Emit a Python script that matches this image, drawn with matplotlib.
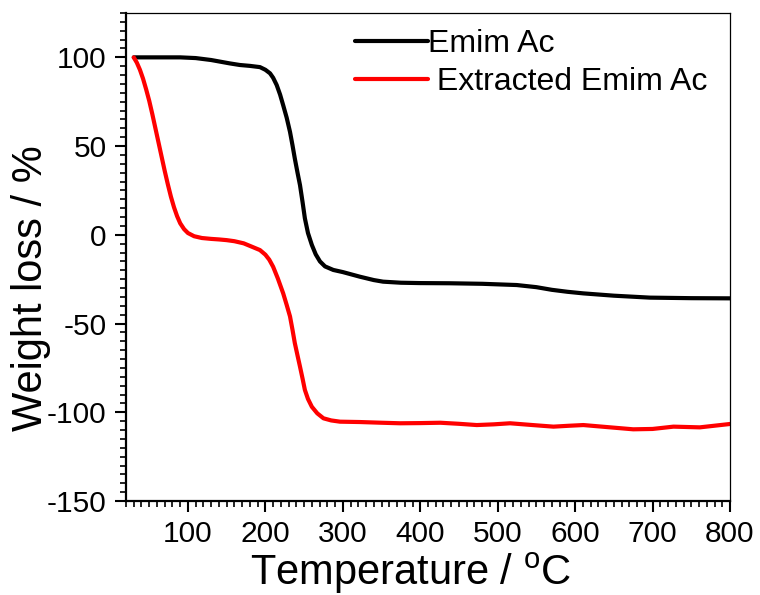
import matplotlib
matplotlib.use("Agg")
import matplotlib.pyplot as plt
from matplotlib.ticker import MultipleLocator

plt.rcParams['font.family'] = ['Liberation Sans', 'DejaVu Sans']
plt.rcParams['axes.unicode_minus'] = False

# Emim Ac (black)
t_emim = [30, 60, 90, 110, 130, 154, 167, 180, 193, 200, 206, 210, 214.6, 219, 223,
          227.5, 231.8, 235, 238, 241.5, 244.7, 248, 251, 255, 260, 265, 270.5, 277,
          287.7, 300, 322, 340, 352, 375, 400, 438, 480, 524.6, 550, 570, 590, 610.6,
          650, 696.7, 750, 800]
w_emim = [100, 100, 100, 99.6, 98.5, 96.6, 95.7, 95.2, 94.5, 93, 91, 88.5, 84.4, 79, 73,
          66, 58, 50.5, 43, 35, 28, 18.5, 9.3, 1, -5.7, -11, -15, -17.8,
          -19.8, -21, -23.6, -25.5, -26.4, -27, -27.2, -27.3, -27.6, -28.3, -29.5, -31, -32.1, -33,
          -34.3, -35.4, -35.7, -35.8]

# Extracted Emim Ac (red)
t_ext = [30, 34, 38, 42, 46, 50, 54, 58, 62, 66, 70, 74, 78, 82, 86, 90, 95, 100, 108,
         118, 130, 140, 150, 160, 172, 182, 193, 200, 205, 210, 216, 223, 227.5, 231.8,
         235, 238, 241.5, 244.7, 248, 251, 255, 260, 267, 275, 285, 296.4, 322, 350,
         374, 400, 426, 450, 473, 495, 516, 545, 572, 592, 610.6, 640, 675, 700, 727,
         761, 800]
w_ext = [100, 97, 93, 88, 82, 75.5, 68, 60, 52, 44, 36, 28.5, 21.5, 15.5, 10.5, 6.5, 3.2, 1, -0.8,
         -1.8, -2.3, -2.6, -3, -3.6, -4.8, -6.6, -8.6, -11.2, -14, -18, -24.5, -33, -39.5, -46,
         -53.5, -61, -68, -74.3, -81, -87.4, -92.5, -96.9, -100.6, -103.4, -104.6, -105.3, -105.5, -105.9,
         -106.2, -106.1, -105.9, -106.5, -107.2, -106.8, -106.2, -107.2, -108.1, -107.6, -107.2, -108.3, -109.6, -109.4, -108.1,
         -108.5, -106.6]

labels = ["Emim Ac", " Extracted Emim Ac"]
x_ticks = [100, 200, 300, 400, 500, 600, 700, 800]
y_ticks = [-150, -100, -50, 0, 50, 100]

fig = plt.figure(figsize=(7.6, 5.95), dpi=100)
ax = fig.add_axes([126/760, 1 - 501/595, (730-126)/760, (501-13)/595])

ax.plot(t_emim, w_emim, color='black', lw=3.0, label=labels[0],
        solid_capstyle='round', solid_joinstyle='round')
ax.plot(t_ext, w_ext, color='#ff0000', lw=3.0, label=labels[1],
        solid_capstyle='round', solid_joinstyle='round')

ax.set_xlim(20, 800)
ax.set_ylim(-150, 125)
ax.set_xticks(x_ticks)
ax.set_yticks(y_ticks)
ax.xaxis.set_minor_locator(MultipleLocator(10))
ax.yaxis.set_minor_locator(MultipleLocator(5))

ax.tick_params(axis='both', which='major', direction='out', length=8, width=1.5,
               labelsize=21.5, pad=6)
ax.tick_params(axis='both', which='minor', direction='out', length=4, width=1.2)
ax.tick_params(top=False, right=False, which='both')

for s in ['left', 'bottom']:
    ax.spines[s].set_linewidth(1.6)
for s in ['top', 'right']:
    ax.spines[s].set_linewidth(0.9)

ax.set_xlabel("Temperature / $\\mathregular{^{o}}$C", fontsize=30)
ax.xaxis.set_label_coords((411 - 126) / 604, -(585 - 501) / 488, transform=ax.transAxes)
ax.xaxis.label.set_verticalalignment('baseline')
ax.set_ylabel("Weight loss / %", fontsize=30)
ax.yaxis.set_label_coords(-(126 - 42) / 604, (501 - 288) / 488, transform=ax.transAxes)
ax.yaxis.label.set_verticalalignment('baseline')

leg = ax.legend(loc='upper left', bbox_to_anchor=(355/760, 1 - 29/595),
                bbox_transform=fig.transFigure, frameon=False, fontsize=23,
                handlelength=2.3, handletextpad=0.0, borderpad=0, borderaxespad=0,
                labelspacing=0.25)

fig.savefig("out.png", dpi=100)
